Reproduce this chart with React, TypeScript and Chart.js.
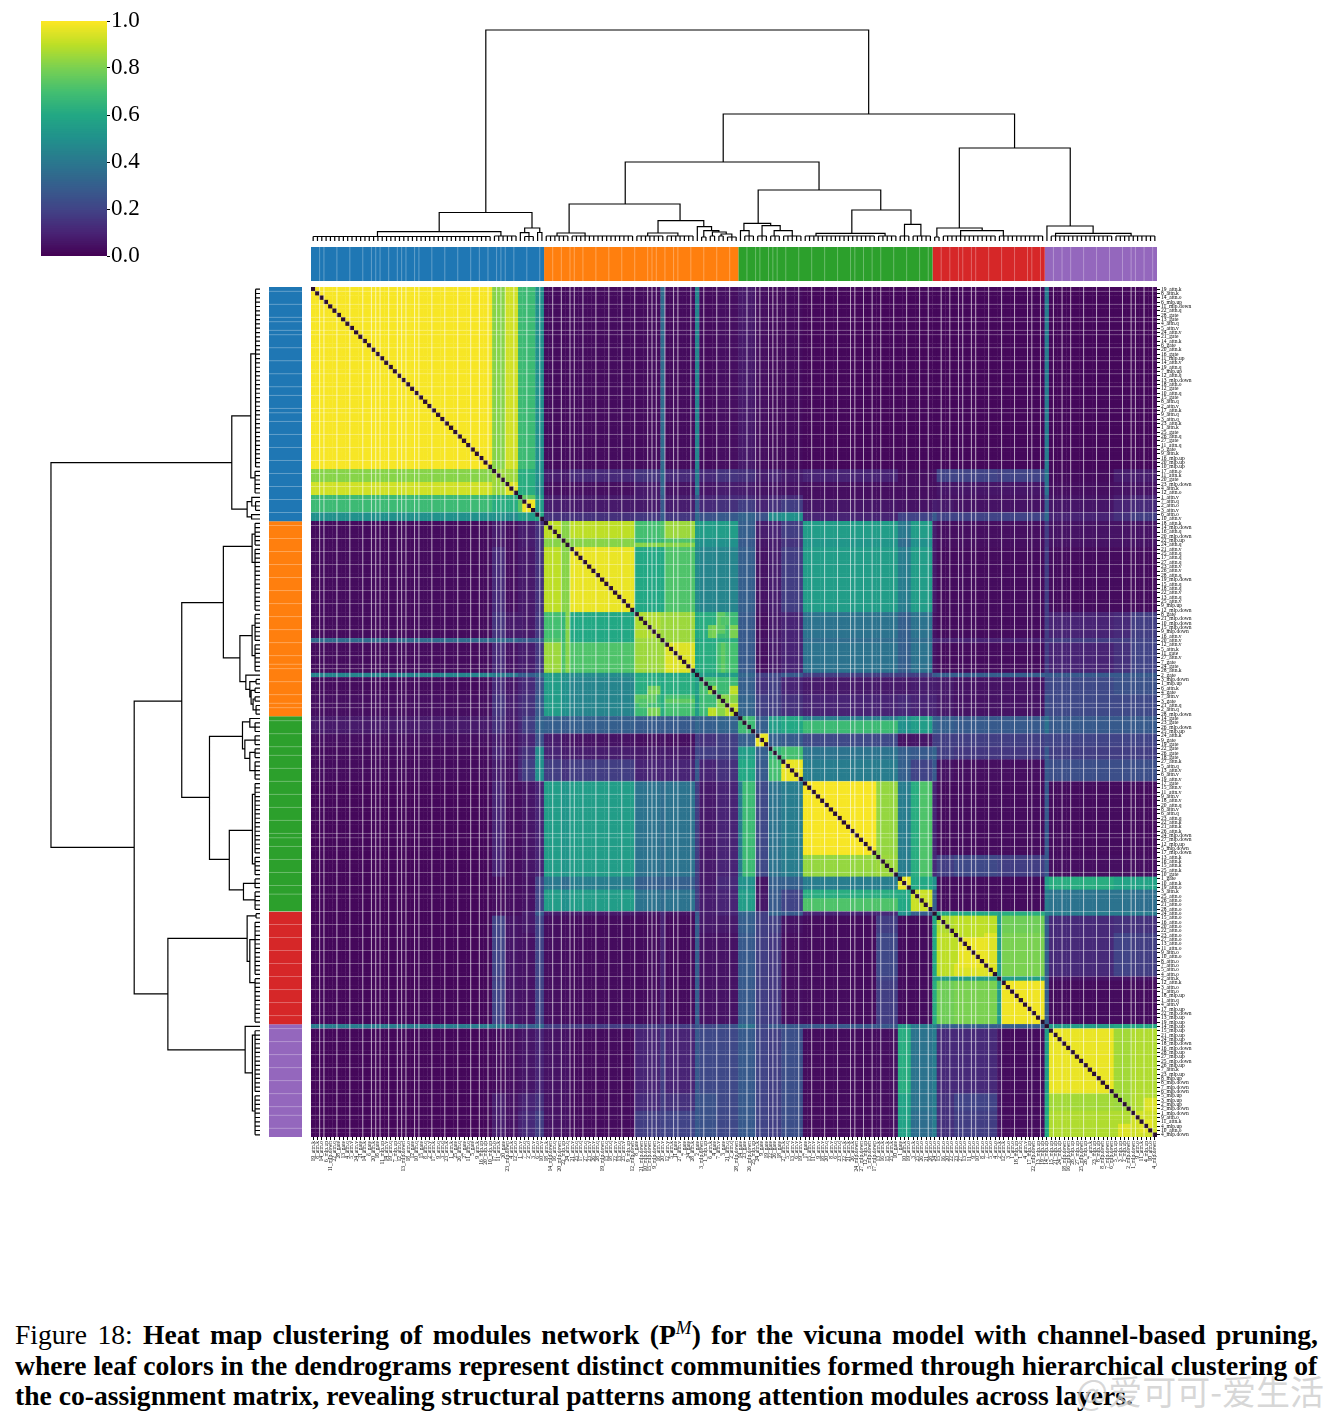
import React, { useEffect, useRef } from "react";
import { Chart, registerables } from "chart.js";

Chart.register(...registerables);

const FONT = '"Liberation Serif", "Times New Roman", serif';

// Leaf order of the clustered matrix (rows and columns share it); text is estimated from the tiny labels.
const leafLabels: string[] = (
  "19_attn.k 8_attn.k 14_attn.o 6_mlp.up 11_mlp.down 22_attn.q 28_gate " +
  "13_gate 4_attn.q 5_attn.v 24_attn.v 21_gate 14_attn.k 6_gate " +
  "20_attn.k 16_gate 11_mlp.up 14_attn.v 19_attn.q 7_mlp.up 12_attn.q " +
  "13_mlp.down 18_attn.o 12_gate 10_attn.q 15_gate 8_attn.q 2_attn.v " +
  "17_attn.k 9_attn.q 3_attn.q 23_attn.k 1_attn.k 25_gate 26_attn.q " +
  "27_gate 11_attn.q 5_gate 9_attn.k 16_mlp.up 20_mlp.up 10_mlp.up " +
  "17_attn.o 11_attn.k 20_gate 23_mlp.down 4_attn.k 12_attn.o 1_attn.v " +
  "7_attn.q 2_attn.o 3_attn.v 6_attn.o 10_attn.v 18_attn.k 14_mlp.down " +
  "16_attn.q 20_mlp.down 22_mlp.up 24_attn.q 21_attn.v 25_attn.q 17_attn.q " +
  "27_attn.q 23_attn.v 26_attn.v 28_attn.q 19_mlp.down 15_attn.q 18_attn.q " +
  "22_attn.v 13_attn.q 25_attn.v 9_mlp.up 12_mlp.down 8_gate 21_mlp.down " +
  "10_mlp.down 15_mlp.down 9_mlp.down 16_attn.v 20_attn.v 12_attn.v 5_attn.k " +
  "11_gate 27_attn.v 7_gate 24_gate 28_attn.k 2_gate 3_mlp.down " +
  "1_mlp.up 6_attn.k 4_gate 7_attn.v 3_gate 21_attn.q 2_attn.q " +
  "28_mlp.down 14_gate 23_gate 26_mlp.down 25_mlp.up 24_attn.k 9_gate " +
  "19_gate 22_gate 26_gate 18_gate 27_attn.k 5_attn.q 13_attn.v " +
  "6_attn.v 19_attn.v 17_gate 15_attn.v 11_attn.v 9_attn.v 18_attn.v " +
  "20_attn.q 8_attn.v 6_attn.q 23_attn.q 22_attn.k 21_attn.k 26_attn.k " +
  "24_mlp.down 27_mlp.down 12_mlp.up 5_mlp.down 17_mlp.down 13_attn.k 16_attn.k " +
  "15_attn.k 25_attn.k 10_gate 1_gate 10_attn.k 19_attn.o 3_attn.k " +
  "25_attn.o 26_attn.o 21_attn.o 28_attn.o 24_attn.o 15_attn.o 16_attn.o " +
  "20_attn.o 22_attn.o 23_attn.o 27_attn.o 13_attn.o 11_attn.o 9_attn.o " +
  "10_attn.o 8_attn.o 7_attn.o 5_attn.o 4_attn.o 2_attn.k 12_attn.k " +
  "3_attn.o 1_attn.o 18_mlp.up 1_attn.q 4_attn.v 17_mlp.up 22_mlp.down " +
  "13_mlp.up 19_mlp.up 14_mlp.up 15_mlp.up 21_mlp.up 24_mlp.up 18_mlp.down " +
  "16_mlp.down 28_mlp.up 27_mlp.up 25_mlp.down 26_mlp.up 7_attn.k 23_mlp.up " +
  "8_mlp.up 8_mlp.down 7_mlp.down 6_mlp.down 5_mlp.up 3_mlp.up 2_mlp.up " +
  "2_mlp.down 1_mlp.down 9_attn.o 11_attn.k 4_mlp.up 10_attn.o 4_mlp.down"
).split(" ");

// Run lengths of leaves that share a row/column profile.
const blockSizes = [42, 3, 3, 1, 3, 2, 4, 2, 15, 6, 1, 7, 1, 4, 5, 4, 3, 3, 5, 17, 5, 3, 5, 1, 4, 10, 1, 10, 1, 15, 4, 6];

// Co-assignment values between blocks: upper triangle, each row starts on the diagonal.
const blockUpper: number[][] = [
  [.99,.82,.93,.68,.68,.5,.03,.03,.03,.03,.35,.03,.45,.03,.04,.07,.04,.03,.03,.02,.02,.02,.02,.02,.02,.02,.02,.02,.42,.02,.02,.02],
  [.85,.85,.62,.62,.5,.08,.07,.12,.15,.35,.12,.42,.12,.15,.14,.08,.1,.08,.1,.1,.04,.04,.05,.2,.2,.18,.2,.4,.03,.08,.08],
  [.95,.62,.62,.48,.04,.04,.04,.07,.33,.05,.4,.06,.08,.08,.05,.05,.05,.04,.04,.04,.04,.04,.06,.06,.06,.06,.38,.04,.05,.05],
  [.9,.75,.55,.08,.07,.07,.08,.3,.08,.3,.1,.12,.12,.08,.1,.12,.04,.04,.04,.04,.04,.05,.05,.05,.05,.3,.05,.08,.1],
  [.98,.55,.08,.08,.07,.07,.28,.08,.3,.12,.14,.18,.1,.14,.18,.06,.06,.05,.05,.08,.07,.05,.05,.05,.3,.06,.1,.12],
  [.6,.14,.14,.14,.16,.3,.16,.35,.25,.28,.32,.25,.48,.5,.1,.1,.2,.2,.28,.2,.2,.2,.2,.35,.1,.14,.18],
  [.9,.82,.9,.7,.72,.85,.55,.55,.55,.3,.08,.1,.18,.55,.55,.4,.55,.08,.04,.04,.04,.04,.18,.05,.05,.05],
  [.82,.82,.66,.66,.72,.5,.5,.5,.28,.06,.08,.15,.52,.52,.35,.5,.07,.04,.04,.04,.04,.16,.05,.05,.05],
  [.97,.6,.6,.72,.48,.45,.45,.3,.05,.08,.18,.55,.55,.42,.55,.07,.03,.03,.03,.03,.18,.03,.03,.03],
  [.88,.85,.85,.6,.62,.68,.28,.04,.07,.1,.38,.38,.3,.38,.05,.03,.03,.03,.03,.18,.1,.12,.18],
  [.88,.85,.55,.6,.62,.28,.05,.08,.1,.35,.35,.3,.35,.12,.1,.1,.1,.1,.18,.18,.18,.2],
  [.95,.6,.62,.7,.28,.04,.07,.1,.38,.38,.3,.38,.05,.03,.03,.03,.03,.18,.1,.14,.2],
  [.7,.55,.55,.33,.18,.22,.28,.18,.18,.18,.18,.28,.3,.3,.3,.3,.28,.28,.28,.28],
  [.7,.68,.3,.14,.18,.1,.07,.07,.07,.08,.08,.07,.05,.05,.05,.22,.22,.25,.25],
  [.82,.32,.18,.18,.14,.1,.1,.12,.1,.1,.07,.05,.05,.05,.25,.22,.22,.22],
  [.68,.3,.55,.6,.68,.68,.5,.55,.32,.3,.28,.28,.28,.38,.28,.28,.28],
  [.97,.3,.28,.22,.22,.05,.06,.18,.18,.18,.18,.18,.22,.2,.2,.2],
  [.65,.7,.38,.38,.3,.28,.32,.18,.16,.16,.16,.28,.18,.18,.18],
  [.97,.42,.42,.3,.2,.28,.05,.04,.04,.04,.28,.24,.24,.24],
  [.99,.84,.42,.72,.1,.03,.03,.03,.03,.28,.03,.03,.03],
  [.85,.42,.72,.12,.18,.22,.2,.18,.28,.04,.04,.04],
  [.97,.6,.5,.03,.03,.03,.03,.55,.62,.58,.58],
  [.92,.3,.03,.03,.03,.03,.42,.38,.38,.36],
  [.55,.6,.6,.55,.62,.45,.42,.42,.42],
  [.88,.9,.55,.78,.3,.12,.14,.14],
  [.95,.55,.8,.3,.12,.2,.18],
  [.55,.55,.3,.05,.05,.05],
  [.98,.3,.03,.03,.03],
  [.55,.55,.6,.6],
  [.97,.86,.88],
  [.85,.88],
  [.93],
];

// Small patches where single cells differ from their block: [row0, row1, col0, col1, value].
const cellPatches: number[][] = [
  [92, 94, 78, 81, .8], [95, 96, 82, 89, .75], [94, 96, 75, 80, .75], [97, 99, 78, 81, .85],
  [78, 81, 92, 93, .78], [78, 81, 97, 99, .8], [76, 78, 95, 97, .72], [92, 94, 97, 99, .9],
  [92, 94, 92, 94, .85], [97, 99, 96, 99, .9],
  [150, 157, 150, 157, .97], [146, 150, 150, 156, .9], [192, 195, 192, 195, .96], [187, 190, 193, 196, .95],
  [99, 100, 114, 136, .42], [139, 141, 114, 136, .62], [59, 60, 75, 89, .82],
];

// Community strips along the dendrograms.
const communitySizes = [54, 45, 45, 26, 26];
const communityColors = ["#1f77b4", "#ff7f0e", "#2ca02c", "#d62728", "#9467bd"];

// Thin pale lines seen across the matrix and the strips, at these leaf boundaries.
const columnLines = [2, 3, 6, 9, 12, 14, 15, 16, 18, 20, 21, 22, 24, 25, 28, 31, 34, 37, 39, 41, 43, 44, 45, 47, 50, 53, 56, 58, 60, 61, 63, 66, 69, 72, 75, 78, 79, 80, 82, 84, 85, 88, 91, 94, 97, 101, 103, 104, 106, 107, 108, 110, 113, 116, 119, 122, 125, 126, 128, 130, 132, 135, 138, 141, 143, 146, 148, 150, 151, 153, 154, 157, 160, 163, 166, 167, 169, 172, 174, 176, 179, 182, 185, 188, 190, 191, 193, 195];
const rowLines = [1, 4, 7, 8, 10, 11, 14, 17, 20, 23, 25, 28, 29, 31, 34, 37, 40, 43, 46, 49, 52, 55, 58, 61, 64, 67, 70, 73, 76, 79, 82, 85, 87, 88, 91, 94, 96, 97, 100, 103, 106, 108, 111, 114, 117, 120, 123, 126, 127, 129, 132, 135, 138, 140, 144, 147, 150, 153, 156, 159, 162, 165, 168, 171, 174, 177, 180, 183, 186, 189, 191, 194];

// Dendrogram: leaf combs [firstLeaf, endLeaf, height], then merges [xA, hA, xB, hB, hMerge].
const leafCombs: number[][] = [
  [0, 42, 4.5], [42, 48, 5], [49, 52, 4.5], [54, 60, 5], [60, 75, 5], [75, 82, 5], [82, 89, 5],
  [90, 92, 4], [92, 94, 5], [94, 96, 5], [96, 99, 4], [100, 103, 5], [103, 106, 5], [106, 109, 5],
  [109, 114, 5], [114, 131, 5], [131, 136, 5], [136, 139, 5], [139, 144, 5], [144, 146, 4],
  [146, 159, 5], [159, 170, 5], [171, 186, 5], [186, 196, 5],
];
const merges: number[][] = [
  [15.4, 4.5, 44, 5, 9.3], [48.5, 0, 50.5, 4.5, 8.3], [52.5, 0, 53.5, 0, 8.5], [49.5, 8.3, 53, 8.5, 13],
  [29.7, 9.3, 51.2, 13, 28.5], [57, 5, 63.5, 5, 8], [78, 5, 85, 5, 8], [95, 5, 97.5, 4, 7],
  [93, 5, 96.2, 7, 9], [91, 4, 94.5, 9, 10.3], [89.5, 0, 92.8, 10.3, 14.3], [80.4, 8, 91, 14.3, 20.3],
  [59.8, 8, 85.5, 20.3, 37], [99.5, 0, 101.5, 5, 10.3], [107.3, 5, 111.5, 5, 10.3], [104.5, 5, 108.7, 10.3, 15.3],
  [100.3, 10.3, 106.5, 15.3, 17.7], [117, 5, 133, 5, 7.7], [137.5, 5, 141.3, 5, 16.7], [125.3, 7.7, 139, 16.7, 31],
  [103.6, 17.7, 132, 31, 51], [72.8, 37, 117.7, 51, 79], [150.5, 5, 160.4, 5, 10.3], [145, 4, 155.5, 10.3, 13],
  [172.5, 5, 190, 5, 7.7], [170.5, 0, 181.2, 7.7, 15], [150.2, 13, 175.9, 15, 93], [95.5, 79, 163, 93, 127],
  [40.5, 28.5, 129.2, 127, 211],
];

const colorbarTicks = [0, 0.2, 0.4, 0.6, 0.8, 1];
const viridisStops = ["#440154", "#482475", "#414487", "#355f8d", "#2a788e", "#21918c", "#22a884", "#44bf70", "#7ad151", "#bddf26", "#fde725"];
const DIAGONAL_COLOR = "#2a0e30";
const N = leafLabels.length;

function viridis(v: number): string {
  const t = Math.min(1, Math.max(0, v)) * (viridisStops.length - 1);
  const i = Math.min(viridisStops.length - 2, Math.floor(t));
  const f = t - i;
  const hex = (s: string, p: number) => parseInt(s.slice(p, p + 2), 16);
  const a = viridisStops[i];
  const b = viridisStops[i + 1];
  const mix = (p: number) => Math.round(hex(a, p) + (hex(b, p) - hex(a, p)) * f);
  return `rgb(${mix(1)},${mix(3)},${mix(5)})`;
}

function buildCells() {
  const blockOf: number[] = [];
  blockSizes.forEach((size, b) => {
    for (let k = 0; k < size; k++) blockOf.push(b);
  });
  const value = (r: number, c: number) => {
    const a = Math.min(blockOf[r], blockOf[c]);
    const b = Math.max(blockOf[r], blockOf[c]);
    return blockUpper[a][b - a];
  };
  const override = new Map<number, number>();
  cellPatches.forEach(([r0, r1, c0, c1, v]) => {
    for (let r = r0; r < r1; r++)
      for (let c = c0; c < c1; c++) {
        override.set(r * N + c, v);
        override.set(c * N + r, v);
      }
  });
  const points: { x: number; y: number }[] = [];
  const colors: string[] = [];
  for (let r = 0; r < N; r++)
    for (let c = 0; c < N; c++) {
      points.push({ x: c + 0.5, y: r + 0.5 });
      colors.push(r === c ? DIAGONAL_COLOR : viridis(override.get(r * N + c) ?? value(r, c)));
    }
  return { points, colors };
}

function linesAcross(positions: number[], vertical: boolean, from: number, to: number) {
  const out: { x: number; y: number | null }[] = [];
  positions.forEach((p) => {
    if (vertical) out.push({ x: p, y: from }, { x: p, y: to }, { x: p, y: null });
    else out.push({ x: from, y: p }, { x: to, y: p }, { x: to, y: null });
  });
  return out;
}

function dendrogramPath(swap: boolean) {
  const out: { x: number; y: number | null }[] = [];
  const pt = (pos: number, h: number) => out.push(swap ? { x: h, y: pos } : { x: pos, y: h });
  const gap = () => out.push({ x: 0, y: null });
  leafCombs.forEach(([s, e, h]) => {
    pt(s + 0.5, h);
    pt(e - 0.5, h);
    gap();
    for (let i = s; i < e; i++) {
      pt(i + 0.5, h);
      pt(i + 0.5, 0);
      gap();
    }
  });
  merges.forEach(([xa, ha, xb, hb, h]) => {
    pt(xa, ha);
    pt(xa, h);
    pt(xb, h);
    pt(xb, hb);
    gap();
  });
  return out;
}

const hiddenLinear = (min: number, max: number, reverse = false) => ({
  type: "linear" as const,
  display: false,
  min,
  max,
  reverse,
});

const lineDataset = (data: any[], color: string, width: number, order: number) => ({
  type: "scatter" as const,
  data,
  showLine: true,
  spanGaps: false,
  borderColor: color,
  borderWidth: width,
  pointRadius: 0,
  borderCapStyle: "butt" as const,
  borderJoinStyle: "miter" as const,
  order,
});

const baseOptions = {
  responsive: false,
  animation: false,
  events: [],
  layout: { padding: 0, autoPadding: false },
  plugins: { legend: { display: false }, tooltip: { enabled: false }, title: { display: false } },
};

const stripZeroPadding = (scale: any) => {
  scale.paddingLeft = scale.paddingRight = scale.paddingTop = scale.paddingBottom = 0;
};

const leafTicks = (scale: any) => {
  scale.ticks = leafLabels.map((_, i) => ({ value: i + 0.5 }));
};

function matrixConfig() {
  const { points, colors } = buildCells();
  const tickStyle = {
    autoSkip: false,
    color: "#000",
    padding: 1,
    font: { family: FONT, size: 5.5 },
    callback: (_: any, i: number) => leafLabels[i],
  };
  const gridStyle = { display: true, drawOnChartArea: false, drawTicks: true, tickLength: 3, color: "#000", lineWidth: 1 };
  return {
    type: "scatter",
    data: {
      datasets: [
        lineDataset(linesAcross(columnLines, true, 0, N), "rgba(255,255,255,0.26)", 1, 1),
        lineDataset(linesAcross(rowLines, false, 0, N), "rgba(255,255,255,0.26)", 1, 1),
        {
          data: points,
          parsing: false,
          normalized: true,
          pointStyle: "rect",
          pointRadius: 3.3,
          pointBorderWidth: 0,
          pointBackgroundColor: colors,
          order: 2,
        },
      ],
    },
    options: {
      ...baseOptions,
      scales: {
        x: {
          type: "linear",
          position: "bottom",
          min: 0,
          max: N,
          afterBuildTicks: leafTicks,
          afterFit: (s: any) => {
            s.height = 60;
            stripZeroPadding(s);
          },
          ticks: { ...tickStyle, minRotation: 90, maxRotation: 90 },
          grid: gridStyle,
          border: { display: false },
        },
        y: {
          type: "linear",
          position: "right",
          min: 0,
          max: N,
          reverse: true,
          afterBuildTicks: leafTicks,
          afterFit: (s: any) => {
            s.width = 50;
            stripZeroPadding(s);
          },
          ticks: tickStyle,
          grid: gridStyle,
          border: { display: false },
        },
      },
    },
  };
}

function stripDatasets(vertical: boolean, thickness: number) {
  let start = 0;
  const bars = communitySizes.map((size, i) => {
    const end = start + size;
    const data = vertical
      ? [{ x: 0.5, y: start }, { x: 0.5, y: end }]
      : [{ x: start, y: 0.5 }, { x: end, y: 0.5 }];
    start = end;
    return lineDataset(data, communityColors[i], thickness, 2);
  });
  const pale = vertical ? linesAcross(rowLines, false, 0, 1) : linesAcross(columnLines, true, 0, 1);
  return [lineDataset(pale, "rgba(255,255,255,0.3)", 1, 1), ...bars];
}

function topStripConfig() {
  return {
    type: "scatter",
    data: { datasets: stripDatasets(false, 34) },
    options: { ...baseOptions, scales: { x: hiddenLinear(0, N), y: hiddenLinear(0, 1) } },
  };
}

function leftStripConfig() {
  return {
    type: "scatter",
    data: { datasets: stripDatasets(true, 33) },
    options: { ...baseOptions, scales: { x: hiddenLinear(0, 1), y: hiddenLinear(0, N, true) } },
  };
}

function topTreeConfig() {
  return {
    type: "scatter",
    data: { datasets: [lineDataset(dendrogramPath(false), "#000", 1.2, 1)] },
    options: { ...baseOptions, scales: { x: hiddenLinear(0, N), y: hiddenLinear(-2, 216) } },
  };
}

function leftTreeConfig() {
  return {
    type: "scatter",
    data: { datasets: [lineDataset(dendrogramPath(true), "#000", 1.2, 1)] },
    options: { ...baseOptions, scales: { x: hiddenLinear(-2, 214, true), y: hiddenLinear(0, N, true) } },
  };
}

function colorbarConfig() {
  const steps = 128;
  const datasets = [];
  for (let i = steps - 1; i >= 0; i--) {
    const a = i / steps;
    const b = Math.min(1, (i + 1.6) / steps);
    datasets.push(lineDataset([{ x: 0.5, y: a }, { x: 0.5, y: b }], viridis((i + 0.5) / steps), 66, steps - i));
  }
  return {
    type: "scatter",
    data: { datasets },
    options: {
      ...baseOptions,
      layout: { padding: { top: 11, bottom: 14 }, autoPadding: false },
      scales: {
        x: hiddenLinear(0, 1),
        y: {
          type: "linear",
          position: "right",
          min: 0,
          max: 1,
          afterBuildTicks: (s: any) => {
            s.ticks = colorbarTicks.map((value) => ({ value }));
          },
          afterFit: (s: any) => {
            s.width = 38;
            stripZeroPadding(s);
          },
          ticks: {
            color: "#000",
            padding: 1,
            font: { family: FONT, size: 23 },
            callback: (v: number) => v.toFixed(1),
          },
          grid: { display: true, drawOnChartArea: false, tickLength: 3, color: "#000", lineWidth: 1 },
          border: { display: false },
        },
      },
    },
  };
}

function Panel({ left, top, width, height, make }: { left: number; top: number; width: number; height: number; make: () => any }) {
  const ref = useRef<HTMLCanvasElement | null>(null);
  useEffect(() => {
    if (!ref.current) return;
    const chart = new Chart(ref.current, make());
    return () => chart.destroy();
  }, []);
  return <canvas ref={ref} width={width} height={height} style={{ position: "absolute", left, top, width, height, display: "block" }} />;
}

const captionLine: React.CSSProperties = {
  position: "absolute",
  left: 15,
  whiteSpace: "nowrap",
  fontFamily: FONT,
  fontSize: 27.6,
  lineHeight: "30px",
  color: "#000",
};

export default function App() {
  return (
    <div style={{ position: "absolute", left: 0, top: 0, width: 1333, height: 1420, background: "#fff", overflow: "hidden" }}>
      <Panel left={41} top={10} width={104} height={260} make={colorbarConfig} />
      <Panel left={311} top={25} width={846} height={218} make={topTreeConfig} />
      <Panel left={48} top={287} width={214} height={850} make={leftTreeConfig} />
      <Panel left={311} top={247} width={846} height={34} make={topStripConfig} />
      <Panel left={269} top={287} width={33} height={850} make={leftStripConfig} />
      <Panel left={311} top={287} width={896} height={910} make={matrixConfig} />
      <div style={{ ...captionLine, top: 1320, width: 1303, textAlign: "justify", textAlignLast: "justify" }}>
        Figure 18: <b>Heat map clustering of modules network (P<sup style={{ fontSize: 19, fontWeight: 400, fontStyle: "italic", lineHeight: 0 }}>M</sup>) for the vicuna model with channel-based pruning,</b>
      </div>
      <div style={{ ...captionLine, top: 1351, width: 1301, textAlign: "justify", textAlignLast: "justify", fontWeight: 700 }}>
        where leaf colors in the dendrograms represent distinct communities formed through hierarchical clustering of
      </div>
      <div style={{ ...captionLine, top: 1381, fontWeight: 700 }}>
        the co-assignment matrix, revealing structural patterns among attention modules across layers.
      </div>
      <div style={{ position: "absolute", left: 1076, top: 1371, whiteSpace: "nowrap", fontFamily: '"Noto Sans CJK SC"', fontSize: 34, lineHeight: "40px", color: "rgba(205,205,205,0.8)" }}>
        @爱可可-爱生活
      </div>
    </div>
  );
}
